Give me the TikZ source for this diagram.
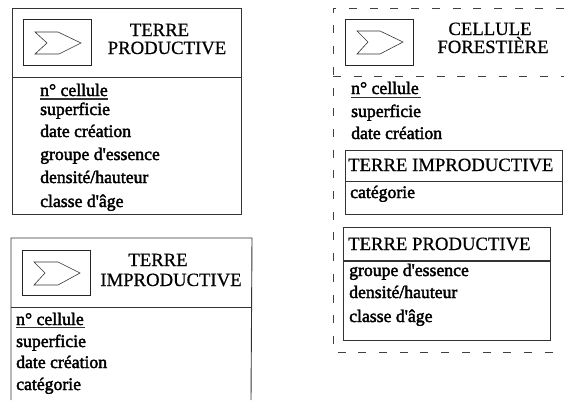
\documentclass[tikz,border=0pt]{standalone}
\usepackage{fontspec}
\setmainfont{Liberation Serif}
\newfontfamily\bodyf[FakeBold=2.2]{Liberation Serif}
\newfontfamily\headf[FakeBold=0.6]{Liberation Serif}
\begin{document}
\begin{tikzpicture}[x=1pt,y=-1pt,
  head/.style={anchor=base,inner sep=0pt,font=\headf\fontsize{18.7}{18}\selectfont},
  headl/.style={anchor=base west,inner sep=0pt,font=\headf\fontsize{18.7}{18}\selectfont},
  attr/.style={anchor=base west,inner sep=0pt,font=\bodyf\fontsize{17.7}{18}\selectfont},
  frame/.style={draw=black!80,line width=0.9pt},
  thin frame/.style={draw=black!85,line width=0.8pt},
  dash frame/.style={draw=black!75,line width=0.9pt,dash pattern=on 8pt off 12.7pt},
  chevron/.style={draw=black!80,line width=0.6pt,line join=miter}]
\useasboundingbox (0,0) rectangle (564,400);
% Box 1 TERRE PRODUCTIVE
\draw[frame] (12,8) rectangle (241,214);
\draw[frame] (12,77) -- (241,77);
\draw[thin frame] (23,19) rectangle (91,65);
\draw[chevron] (35,32) -- (58,32) -- (81,43) -- (59,54) -- (35,54) -- (47,43) -- cycle;
\node[head] (a1) at (159.5,36) {TERRE};
\node[head] (a2) at (167,54) {PRODUCTIVE};
\node[attr] (a3) at (40,96) {n° cellule};
\draw[frame,line width=1.1pt] (40,99) -- (108,99);
\node[attr] (a4) at (40,115) {superficie};
\node[attr] (a5) at (40,137) {date création};
\node[attr] (a6) at (40,160) {groupe d'essence};
\node[attr] (a7) at (40,183) {densité/hauteur};
\node[attr] (a8) at (40,207) {classe d'âge};
% Box 2 TERRE IMPRODUCTIVE
\draw[frame] (11,400) -- (11,238) -- (252,238) -- (251,400);
\draw[frame] (11,307) -- (252,307);
\draw[thin frame] (22,250) rectangle (90,295);
\draw[chevron] (34,262) -- (58,262) -- (80,273) -- (58,285) -- (34,285) -- (45,273) -- cycle;
\node[head] (b1) at (158,266) {TERRE};
\node[head] (b2) at (171,286) {IMPRODUCTIVE};
\node[attr] (b3) at (16,325) {n° cellule};
\draw[frame] (16,327.5) -- (85,327.5);
\node[attr] (b4) at (16,347) {superficie};
\node[attr] (b5) at (16,368) {date création};
\node[attr] (b6) at (16,390) {catégorie};
% Dashed CELLULE FORESTIERE
\draw[dash frame] (564,8) -- (333,8) -- (333,352) -- (564,352);
\draw[dash frame] (333,76) -- (564,76);
\draw[thin frame] (345,19) rectangle (413,65);
\draw[chevron] (357,31) -- (380,31) -- (403,42) -- (380,54) -- (357,54) -- (368,42) -- cycle;
\node[head] (c1) at (490,35) {CELLULE};
\node[head] (c2) at (493,53) {FORESTIÈRE};
\node[attr] (c3) at (351,94) {n° cellule};
\draw[frame] (351,97) -- (421,97);
\node[attr] (c4) at (351,117) {superficie};
\node[attr] (c5) at (351,139) {date création};
% Inner TERRE IMPRODUCTIVE
\draw[frame] (345,150) rectangle (562,214);
\draw[frame] (345,181) -- (562,181);
\node[headl] (d1) at (348,171) {TERRE IMPRODUCTIVE};
\node[attr] (d2) at (350,198) {catégorie};
% Inner TERRE PRODUCTIVE
\draw[frame] (343,227) rectangle (550,340);
\draw[frame,line width=1.1pt] (343,261) -- (550,261);
\node[headl] (e1) at (348,250) {TERRE PRODUCTIVE};
\node[attr] (e2) at (349,276) {groupe d'essence};
\node[attr] (e3) at (349,298) {densité/hauteur};
\node[attr] (e4) at (349,322) {classe d'âge};
\end{tikzpicture}
\end{document}
